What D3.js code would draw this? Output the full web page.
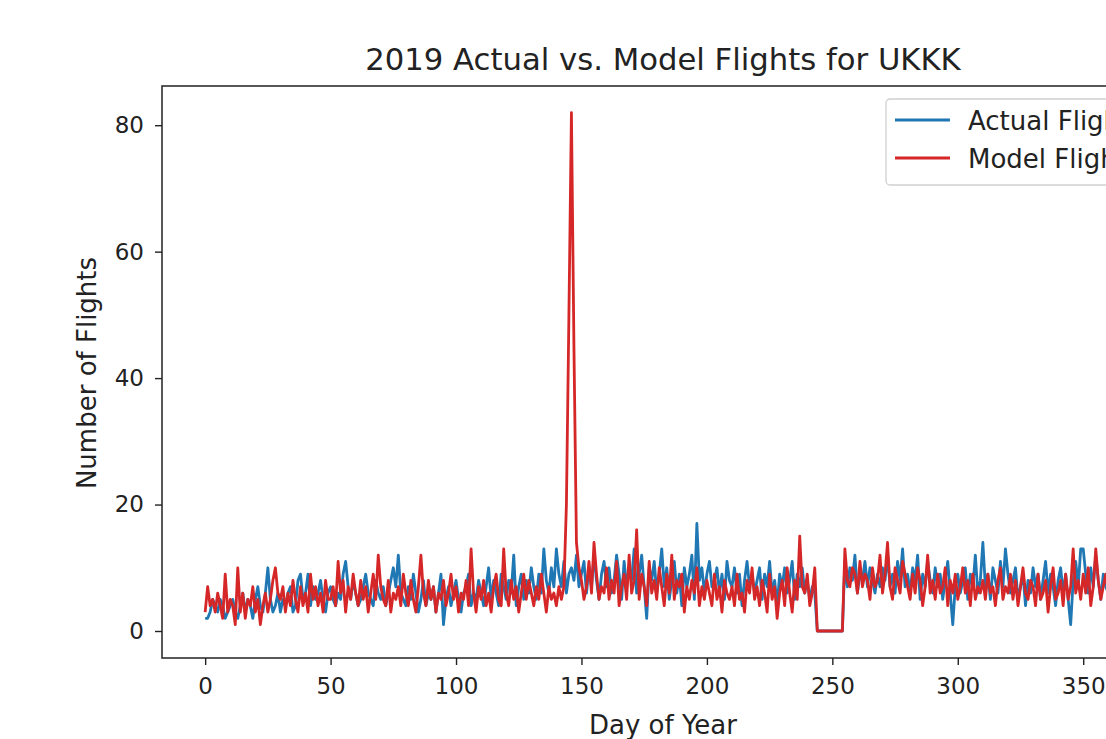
<!DOCTYPE html>
<html><head><meta charset="utf-8">
<script src="https://cdn.jsdelivr.net/npm/d3@7"></script>
<style>body{margin:0;background:#fff}svg{display:block;font-family:"DejaVu Sans",sans-serif}</style>
</head><body><svg id="c" width="1106" height="739"></svg>
<script>
const title = "2019 Actual vs. Model Flights for UKKK";
const xLabel = "Day of Year";
const yLabel = "Number of Flights";
const seriesNames = ["Actual Flights", "Model Flights"];
const xTicks = [0,50,100,150,200,250,300,350];
const yTicks = [0,20,40,60,80];
const actual = [
2,2,3,5,4,3,5,4,2,3, 4,5,3,2,4,6,3,5,4,2, 5,7,4,3,6,10,5,3,4,6, 3,5,4,6,7,3,4,8,9,5,
6,9,4,7,5,6,8,5,3,6, 7,5,4,6,5,9,11,7,5,8, 6,4,5,7,9,6,5,4,8,6, 5,7,4,6,8,10,7,12,6,5,
4,7,5,9,6,3,5,8,4,6, 5,7,3,6,9,1,5,7,4,6, 8,5,3,6,7,9,4,6,5,8, 6,4,7,10,5,8,6,4,9,7,
5,8,6,12,4,7,9,5,8,6, 10,7,5,9,6,13,8,6,10,7, 13,9,7,11,6,9,10,8,12,7, 9,11,6,10,7,12,8,5,9,11,
7,10,6,8,12,9,5,11,7,10, 8,13,6,9,12,7,2,10,8,11, 6,9,13,7,10,5,8,11,6,9, 4,10,7,9,12,5,17,8,10,6,
9,11,7,8,10,6,9,5,11,8, 7,10,6,9,4,8,11,7,9,6, 8,10,5,9,7,11,6,8,4,9, 7,10,6,8,11,5,9,7,10,6,
8,5,7,6,0,0,0,0,0,0, 0,0,0,0,0,11,7,10,8,12, 6,9,8,11,7,10,8,6,9,7, 10,8,12,7,9,6,11,8,13,7,
9,6,10,8,12,5,9,7,11,8, 6,10,7,9,5,8,11,6,1,7, 9,6,8,10,5,9,7,12,6,8, 14,7,9,5,10,8,6,11,7,13,
9,6,8,10,5,7,9,4,8,6, 10,7,9,5,8,11,6,9,7,4, 8,10,6,9,5,1,8,11,7,13, 13,9,6,10,7,12,8,5,9,7,
6,9,4,7,5];
const model = [
3,7,4,5,3,6,4,2,9,3, 5,4,1,10,3,6,2,5,4,7, 3,5,1,4,6,3,5,8,10,6, 5,7,3,6,4,8,5,3,7,4,
6,3,9,5,7,4,6,3,8,5, 5,7,4,11,6,8,3,7,5,9, 6,4,8,5,7,3,6,9,5,12, 7,5,4,8,3,6,5,7,4,9,
6,4,8,5,3,7,12,6,4,8, 5,7,3,6,5,8,4,6,9,5, 7,3,6,5,8,4,13,6,3,7, 5,8,4,6,3,7,9,5,4,13,
6,4,8,5,7,3,6,9,5,8, 6,4,7,5,9,6,3,7,5,6, 4,7,5,7,20,50,82,45,14,10, 8,5,7,11,6,14,9,5,7,6,
10,5,8,6,11,4,7,9,5,12, 6,8,16,5,9,7,4,11,6,8, 5,10,7,4,9,6,12,5,8,7, 9,3,7,5,8,6,10,4,7,5,
8,6,4,9,5,7,3,8,6,5, 7,4,9,5,6,3,8,6,10,5, 7,4,8,6,3,9,5,7,2,6, 8,4,10,6,3,8,5,15,7,6,
9,4,6,10,0,0,0,0,0,0, 0,0,0,0,0,13,8,7,10,9, 6,11,7,9,8,5,10,7,8,12, 6,9,14,7,5,10,8,6,11,9,
7,5,9,6,10,8,4,7,12,6, 8,5,9,6,7,10,4,8,6,9, 5,7,10,6,8,4,9,5,7,6, 8,5,9,6,7,4,8,10,5,7,
6,9,5,8,4,7,10,6,5,8, 7,4,9,5,6,8,3,7,10,5, 6,8,4,9,5,7,13,6,8,5, 9,6,10,4,7,13,8,5,7,9,
6,4,2,5,3];
const colors = ["#1f77b4", "#d62728"];

const svg = d3.select("#c");
const L = 162, T = 86, B = 658, R = 1164;
const x = d3.scaleLinear().domain([-17.2, 382.2]).range([L, R]);
const y = d3.scaleLinear().domain([-4.27, 86.2]).range([B, T]);

svg.append("defs").append("clipPath").attr("id","clip")
  .append("rect").attr("x",L).attr("y",T).attr("width",R-L).attr("height",B-T);

const line = d3.line().x((d,i)=>x(i)).y(d=>y(d));
[actual, model].forEach((s,k)=>{
  svg.append("path").datum(s).attr("d", line).attr("fill","none")
    .attr("stroke", colors[k]).attr("stroke-width", 2.8)
    .attr("stroke-linejoin","round").attr("clip-path","url(#clip)");
});

const xAxis = svg.append("g").attr("transform",`translate(0,${B})`)
  .call(d3.axisBottom(x).tickValues(xTicks).tickSize(7).tickPadding(13));
const yAxis = svg.append("g").attr("transform",`translate(${L},0)`)
  .call(d3.axisLeft(y).tickValues(yTicks).tickSize(7).tickPadding(11));
[xAxis, yAxis].forEach(g=>{
  g.select(".domain").remove();
  g.selectAll("line").attr("stroke","#222").attr("stroke-width",1.4);
  g.selectAll("text").attr("font-size",23).attr("fill","#222").attr("font-family","DejaVu Sans");
});

svg.append("rect").attr("x",L).attr("y",T).attr("width",R-L).attr("height",B-T)
  .attr("fill","none").attr("stroke","#222").attr("stroke-width",1.5);

svg.append("text").attr("x",(L+R)/2).attr("y",70).attr("text-anchor","middle")
  .attr("font-size",30.7).attr("fill","#222").text(title);
svg.append("text").attr("x",(L+R)/2).attr("y",734).attr("text-anchor","middle")
  .attr("font-size",26).attr("fill","#222").text(xLabel);
svg.append("text").attr("transform","translate(96,373) rotate(-90)").attr("text-anchor","middle")
  .attr("font-size",26).attr("fill","#222").text(yLabel);

const lg = svg.append("g");
lg.append("rect").attr("x",886).attr("y",99).attr("width",300).attr("height",86).attr("rx",4)
  .attr("fill","#fff").attr("fill-opacity",0.85).attr("stroke","#d0d0d0").attr("stroke-width",1.3);
seriesNames.forEach((n,k)=>{
  const yy = 120 + k*38;
  lg.append("line").attr("x1",895).attr("x2",950).attr("y1",yy).attr("y2",yy)
    .attr("stroke",colors[k]).attr("stroke-width",2.8);
  lg.append("text").attr("x",968).attr("y",yy+10).attr("font-size",26).attr("fill","#222").text(n);
});
</script></body></html>
